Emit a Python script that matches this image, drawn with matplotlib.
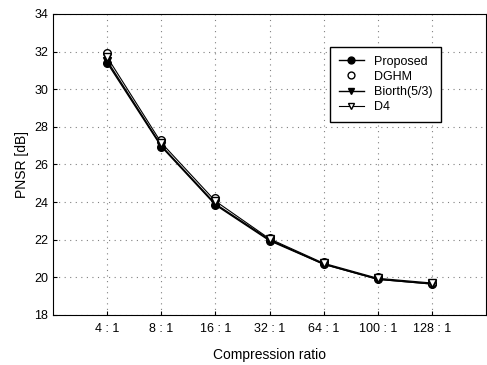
import matplotlib
matplotlib.use("Agg")
import matplotlib.pyplot as plt

plt.rcParams['font.family'] = ['Liberation Sans', 'DejaVu Sans']

ratios = ['4 : 1', '8 : 1', '16 : 1', '32 : 1', '64 : 1', '100 : 1', '128 : 1']
proposed = [31.4, 26.95, 23.85, 21.95, 20.7, 19.9, 19.65]
dghm = [31.9, 27.3, 24.2, 22.1, 20.8, 20.0, 19.7]
biorth = [31.5, 27.0, 23.9, 22.0, 20.7, 19.9, 19.65]
d4 = [31.7, 27.15, 24.05, 22.05, 20.75, 19.95, 19.7]

x = list(range(1, len(ratios) + 1))

fig = plt.figure(figsize=(4.87, 3.65), dpi=100)
ax = fig.add_axes([0.109, 0.137, 0.889, 0.825])

ax.plot(x, proposed, 'k-', marker='o', ms=5.5, lw=1, label='Proposed')
ax.plot(x, dghm, ls='none', color='k', marker='o', mfc='white', ms=5.5, label='DGHM')
ax.plot(x, biorth, 'k-', marker='v', ms=5.5, lw=1, label='Biorth(5/3)')
ax.plot(x, d4, 'k-', marker='v', mfc='white', ms=5.5, lw=0.8, label='D4')

ax.set_xlim(0, 8)
ax.set_ylim(18, 34)
ax.set_xticks(x)
ax.set_xticklabels(ratios, fontsize=9)
ax.set_yticks(range(18, 35, 2))
ax.tick_params(axis='y', labelsize=9, length=3, direction='in')
ax.tick_params(axis='x', length=3, direction='in', pad=6)
ax.grid(True, ls=(0, (1, 4)), color='0.5', lw=0.8)

ax.set_xlabel('Compression ratio', fontsize=10, labelpad=9)
ax.set_ylabel('PNSR [dB]', fontsize=10)

ax.legend(loc='upper left', bbox_to_anchor=(0.64, 0.89), borderaxespad=0,
          fontsize=9, frameon=True, fancybox=False, edgecolor='k', framealpha=1,
          handlelength=2.0, markerscale=0.9, borderpad=0.7, labelspacing=0.25)

fig.savefig('out.png', dpi=100)
